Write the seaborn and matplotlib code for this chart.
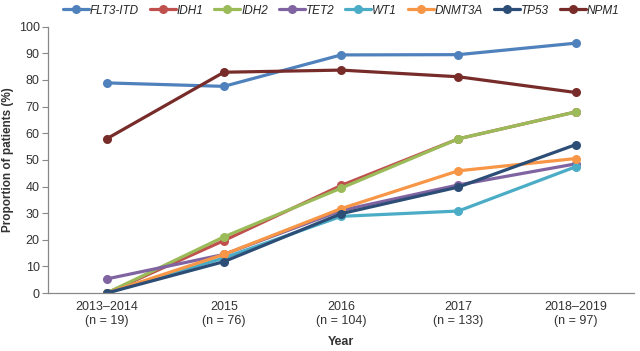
import matplotlib
matplotlib.use("Agg")
import numpy as np
import pandas as pd
import matplotlib.pyplot as plt
import seaborn as sns

periods = ["2013\u20132014\n(n = 19)", "2015\n(n = 76)", "2016\n(n = 104)",
           "2017\n(n = 133)", "2018\u20132019\n(n = 97)"]
genes = ["FLT3-ITD", "IDH1", "IDH2", "TET2", "WT1", "DNMT3A", "TP53", "NPM1"]

flt3_itd = [78.9, 77.6, 89.4, 89.5, 93.8]
idh1 = [0.0, 19.7, 40.4, 57.9, 68.0]
idh2 = [0.0, 21.1, 39.4, 57.9, 68.0]
tet2 = [5.3, 14.5, 31.0, 40.6, 48.5]
wt1 = [0.0, 13.2, 28.8, 30.8, 47.4]
dnmt3a = [0.0, 14.5, 31.7, 45.9, 50.5]
tp53 = [0.0, 11.8, 29.8, 39.8, 55.7]
npm1 = [57.9, 82.9, 83.7, 81.2, 75.3]

colors = ["#4f81bd", "#c0504d", "#9bbb59", "#8064a2", "#4bacc6",
          "#f79646", "#2c4d75", "#772c2a"]

values = [flt3_itd, idh1, idh2, tet2, wt1, dnmt3a, tp53, npm1]
df = pd.DataFrame([
    {"gene": g, "x": i, "value": v}
    for g, vals in zip(genes, values) for i, v in enumerate(vals)
])

sns.set_style("ticks")
plt.rcParams["font.family"] = ["Liberation Sans", "DejaVu Sans"]

fig = plt.figure(figsize=(6.4, 3.51), dpi=100)
ax = fig.add_axes([0.075, 0.165, 0.916, 0.759])

sns.lineplot(data=df, x="x", y="value", hue="gene", hue_order=genes,
             palette=colors, marker="o", markersize=6.5, markeredgewidth=0,
             linewidth=2.3, ax=ax)

ax.set_xlim(-0.5, 4.5)
ax.set_ylim(0, 100)
ax.set_yticks(np.arange(0, 101, 10))
ax.set_xticks(range(len(periods)))
ax.set_xticklabels(periods)
ax.tick_params(axis="x", length=0, pad=6, labelsize=9, colors="#333333")
ax.tick_params(axis="y", length=4, width=0.8, labelsize=9, colors="#333333",
               color="#888888", pad=2)
for s in ["left", "bottom"]:
    ax.spines[s].set_color("#888888")
    ax.spines[s].set_linewidth(0.9)
sns.despine(ax=ax)

ax.set_xlabel("Year", fontsize=9, fontweight="bold", color="#333333",
              labelpad=6)
ax.set_ylabel("Proportion of patients (%)", fontsize=8.5, fontweight="bold",
              color="#333333", labelpad=3)

handles, labels = ax.get_legend_handles_labels()
ax.legend(handles, labels, loc="lower center", bbox_to_anchor=(0.5, 1.02),
          ncol=8, frameon=False, handlelength=2.2, columnspacing=0.9,
          handletextpad=0.1, prop={"style": "italic", "size": 8.5},
          borderaxespad=0)

fig.savefig("out.png", dpi=100)
